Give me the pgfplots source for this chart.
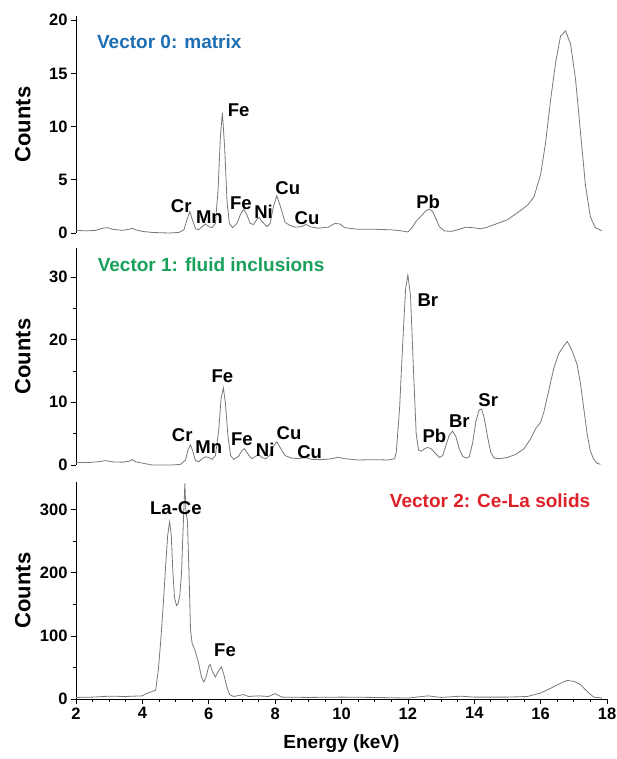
\documentclass[border=0pt]{standalone}
\usepackage{fontspec}
\setmainfont{Liberation Sans}
\usepackage{pgfplots}
\pgfplotsset{compat=1.18}

\definecolor{vblue}{RGB}{30,110,178}
\definecolor{vgreen}{RGB}{25,160,90}
\definecolor{vred}{RGB}{222,32,40}
\definecolor{trace}{RGB}{120,120,120}

\tikzset{
  pk/.style={font=\fontsize{18.5}{18.5}\selectfont\bfseries, inner sep=0pt},
  ttl/.style={font=\fontsize{19}{19}\selectfont\bfseries, inner sep=0pt},
}
\pgfplotsset{
  spec/.style={
    scale only axis, width=531pt, height=217pt,
    xmin=2, xmax=18,
    axis y line*=left,
    tick align=outside,
    major tick length=5pt, minor tick length=3pt,
    every tick/.style={black, line width=0.7pt},
    axis line style={line width=0.8pt},
    /pgf/number format/assume math mode=true,
    tick label style={font=\fontsize{16.5}{16.5}\selectfont\bfseries},
    ylabel={Counts},
    ylabel style={font=\fontsize{22}{22}\selectfont\bfseries,
      at={(axis description cs:-0.1,0.5)}, anchor=center},
    clip=false,
  },
  curve/.style={trace, line width=0.8pt, no marks},
}

\begin{document}
\begin{tikzpicture}
\useasboundingbox (-76pt,16pt) rectangle (540pt,-743pt);

% Vector 0: matrix
\begin{axis}[spec, at={(0pt,0pt)}, anchor=north west,
  axis x line=none, ymin=0, ymax=20.4, ytick={0,5,10,15,20}]
\addplot[curve] coordinates {
(2.0,0.25) (2.3,0.2) (2.6,0.25) (2.8,0.45) (2.95,0.5) (3.1,0.35) (3.4,0.25)
(3.6,0.35) (3.7,0.45) (3.8,0.3) (4.0,0.15) (4.3,0.05) (4.8,0.0) (5.1,0.05)
(5.25,0.3) (5.35,1.3) (5.43,2.0) (5.5,1.3) (5.6,0.4) (5.7,0.3) (5.8,0.6)
(5.9,0.85) (6.0,0.6) (6.1,0.5) (6.2,0.9) (6.28,4) (6.35,9) (6.41,11.3)
(6.48,8) (6.55,3) (6.62,0.9) (6.72,0.5) (6.85,0.9) (6.95,1.7) (7.05,2.25)
(7.15,1.7) (7.25,0.9) (7.35,0.8) (7.45,1.3) (7.52,1.45) (7.6,1.1) (7.75,0.6)
(7.85,0.9) (7.95,2.5) (8.05,3.5) (8.15,2.6) (8.3,1.0) (8.45,0.7) (8.6,0.55)
(8.8,0.6) (8.93,0.8) (9.05,0.6) (9.3,0.45) (9.6,0.55) (9.8,0.9) (9.95,0.85)
(10.1,0.5) (10.5,0.35) (11.0,0.35) (11.5,0.3) (11.8,0.2) (12.0,0.1)
(12.1,0.4) (12.25,1.1) (12.4,1.6) (12.55,2.1) (12.65,2.25) (12.75,2.0)
(12.85,1.3) (12.95,0.6) (13.1,0.2) (13.3,0.15) (13.5,0.3) (13.75,0.55)
(13.95,0.5) (14.2,0.4) (14.4,0.55) (14.7,0.9) (15.0,1.25) (15.3,1.9)
(15.6,2.6) (15.8,3.4) (16.0,5.5) (16.15,8.5) (16.3,12.5) (16.45,16)
(16.6,18.5) (16.75,19) (16.9,17.8) (17.05,14.5) (17.2,9.5) (17.35,4.5)
(17.5,1.5) (17.65,0.5) (17.85,0.2)
};
\node[ttl, vblue, anchor=west] at (axis cs:2.63,18.0) {Vector 0: matrix};
\node[pk] at (axis cs:6.9,11.55) {Fe};
\node[pk] at (axis cs:5.17,2.5) {Cr};
\node[pk] at (axis cs:6.02,1.5) {Mn};
\node[pk] at (axis cs:6.97,2.8) {Fe};
\node[pk] at (axis cs:7.65,1.95) {Ni};
\node[pk] at (axis cs:8.38,4.25) {Cu};
\node[pk] at (axis cs:8.96,1.38) {Cu};
\node[pk] at (axis cs:12.61,2.94) {Pb};
\end{axis}

% Vector 1: fluid inclusions
\begin{axis}[spec, at={(0pt,-232pt)}, anchor=north west,
  axis x line=none, ymin=0, ymax=34.6, ytick={0,10,20,30}, minor y tick num=1]
\addplot[curve] coordinates {
(2.0,0.4) (2.4,0.4) (2.7,0.55) (2.9,0.7) (3.1,0.5) (3.4,0.45) (3.6,0.6)
(3.7,0.85) (3.8,0.5) (4.1,0.2) (4.3,0.0) (4.9,0.0) (5.15,0.1) (5.3,0.8)
(5.38,2.5) (5.45,3.2) (5.52,2.2) (5.6,0.7) (5.7,0.5) (5.8,1.0) (5.9,1.3)
(6.0,1.2) (6.1,0.9) (6.2,1.5) (6.3,5.5) (6.37,10.5) (6.44,12.3) (6.5,10)
(6.58,4.5) (6.66,1.5) (6.75,0.9) (6.9,1.4) (7.0,2.3) (7.08,2.6) (7.2,1.6)
(7.3,1.0) (7.42,1.4) (7.5,1.7) (7.6,1.2) (7.72,1.0) (7.85,1.6) (7.95,3.0)
(8.05,3.7) (8.15,2.8) (8.3,1.5) (8.5,1.1) (8.7,1.0) (8.9,1.2) (9.1,0.9)
(9.4,0.85) (9.7,1.0) (9.9,1.25) (10.1,1.0) (10.5,0.8) (11.0,0.85) (11.4,0.8)
(11.6,1.0) (11.65,2) (11.75,9) (11.85,20) (11.93,28) (12.0,30.3) (12.08,27)
(12.17,15) (12.25,5) (12.32,2.4) (12.4,2.2) (12.5,2.6) (12.6,2.8) (12.7,2.6)
(12.8,2.0) (12.95,1.2) (13.05,1.5) (13.15,3.2) (13.25,4.8) (13.35,5.4)
(13.45,4.5) (13.55,2.5) (13.65,1.4) (13.75,1.1) (13.85,1.3) (13.95,3.5)
(14.05,7) (14.15,8.8) (14.22,8.9) (14.3,7.5) (14.4,4.5) (14.5,2) (14.6,1.1)
(14.75,1.0) (15.0,1.2) (15.25,1.7) (15.5,2.6) (15.7,4.2) (15.85,5.8)
(16.0,6.8) (16.1,8.5) (16.25,12) (16.4,15.5) (16.55,17.8) (16.7,19)
(16.8,19.7) (16.9,18.8) (17.0,17.5) (17.1,16) (17.2,13) (17.3,9) (17.4,5)
(17.5,2.2) (17.6,0.9) (17.7,0.3) (17.8,0.1)
};
\node[ttl, vgreen, anchor=west] at (axis cs:2.65,31.9) {Vector 1: fluid inclusions};
\node[pk] at (axis cs:12.6,26.3) {Br};
\node[pk] at (axis cs:6.41,14.2) {Fe};
\node[pk] at (axis cs:5.2,4.7) {Cr};
\node[pk] at (axis cs:6.0,2.8) {Mn};
\node[pk] at (axis cs:7.0,4.1) {Fe};
\node[pk] at (axis cs:7.7,2.5) {Ni};
\node[pk] at (axis cs:8.42,5.1) {Cu};
\node[pk] at (axis cs:9.04,2.1) {Cu};
\node[pk] at (axis cs:12.8,4.65) {Pb};
\node[pk] at (axis cs:13.55,7.0) {Br};
\node[pk] at (axis cs:14.42,10.3) {Sr};
\end{axis}

% Vector 2: Ce-La solids
\begin{axis}[spec, at={(0pt,-466pt)}, anchor=north west,
  axis x line*=bottom, ymin=0, ymax=344,
  ytick={0,100,200,300}, minor y tick num=1,
  xtick={2,4,...,18}, minor x tick num=3,
  xlabel={Energy (keV)},
  xlabel style={font=\fontsize{19}{19}\selectfont\bfseries,
    at={(axis description cs:0.5,-0.207)}, anchor=center}]
\addplot[curve] coordinates {
(2.0,2.5) (2.5,3) (3.0,4.5) (3.5,4) (4.0,5) (4.1,8) (4.25,11) (4.4,14)
(4.48,46) (4.55,90) (4.63,150) (4.7,210) (4.76,258) (4.82,281) (4.87,260)
(4.92,200) (4.97,160) (5.03,148) (5.08,152) (5.13,165) (5.18,200) (5.22,260)
(5.25,300) (5.28,342) (5.31,300) (5.36,280) (5.41,190) (5.45,110) (5.5,88)
(5.58,78) (5.68,60) (5.78,35) (5.85,27) (5.92,35) (6.0,52) (6.04,55)
(6.1,45) (6.2,35) (6.3,45) (6.38,51) (6.45,40) (6.55,18) (6.63,7) (6.75,4)
(7.05,7) (7.2,4) (7.5,5) (7.8,4) (8.0,8.5) (8.2,3) (9.0,2.5) (10,3) (11,2.5)
(12,1.5) (12.6,5) (13,2.5) (13.6,4.5) (14,3) (15,3) (15.6,4) (16.0,9.5)
(16.3,17) (16.6,25) (16.8,29.5) (17.0,28) (17.2,23) (17.4,12) (17.6,3)
(17.85,1.6)
};
\node[pk] at (axis cs:5.01,303) {La-Ce};
\node[pk] at (axis cs:6.49,78) {Fe};
\node[ttl, vred, anchor=east] at (axis cs:17.5,315) {Vector 2: Ce-La solids};
\end{axis}
\end{tikzpicture}
\end{document}
